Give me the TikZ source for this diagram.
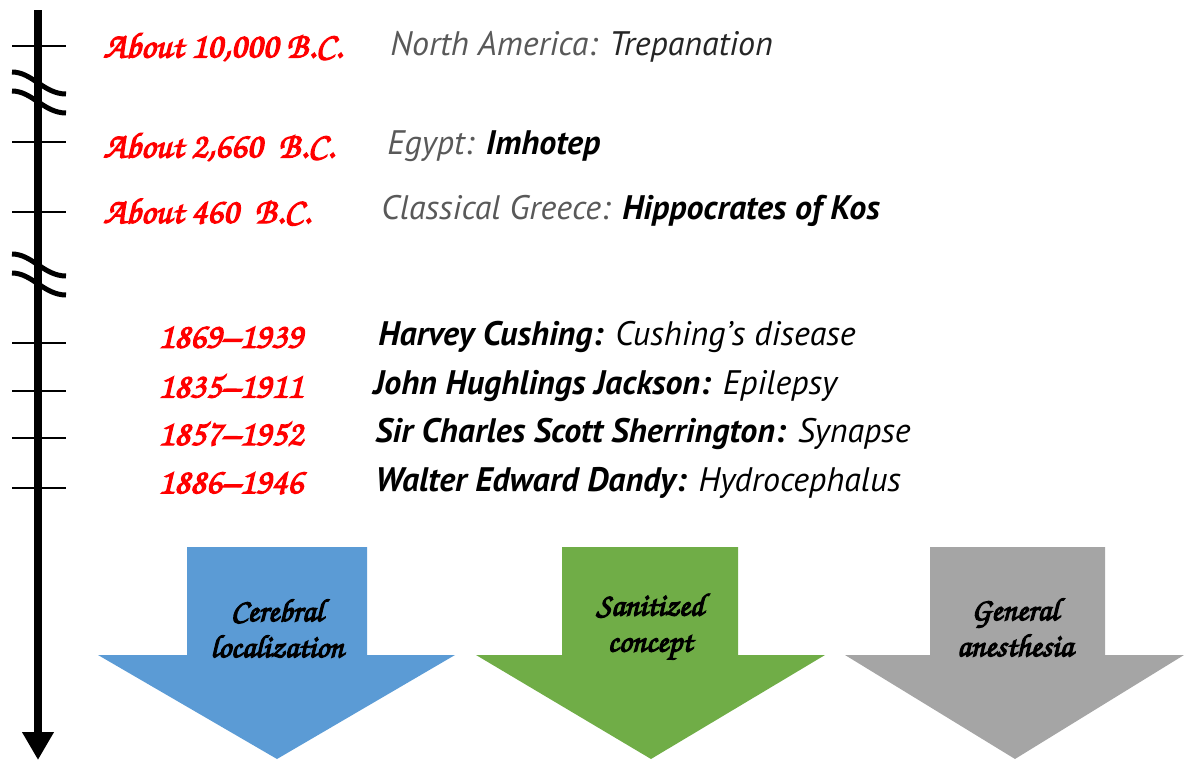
\documentclass[tikz,border=0pt]{standalone}
\usepackage[T1]{fontenc}
\usepackage{fontspec}
\usepackage{xcolor}
\usetikzlibrary{arrows.meta}
\setmainfont{PT Sans}
\newcommand{\brush}{\fontencoding{T1}\fontfamily{pzc}\fontseries{mb}\fontshape{it}\selectfont}
\newcommand{\heavy}[1]{\special{pdf:literal direct 2 Tr 0.6 w}#1\special{pdf:literal direct 0 Tr}}
\definecolor{datered}{HTML}{FF0000}
\definecolor{placegray}{HTML}{595959}
\definecolor{cerebralblue}{HTML}{5B9BD5}
\definecolor{sanitgreen}{HTML}{70AD47}
\definecolor{anesgray}{HTML}{A5A5A5}

\begin{document}
\begin{tikzpicture}[x=0.5pt,y=0.5pt,
	date/.style={anchor=west,text=datered,font=\brush\fontsize{18}{21}\selectfont},
	event/.style={anchor=west,font=\itshape\fontsize{17}{20}\selectfont},
	arrowtext/.style={align=center,font=\brush\fontsize{16}{18}\selectfont}]
	\tikzstyle{every node}+=[inner sep=0pt]
	\useasboundingbox (0,0) rectangle (1184,-760);
	% time axis
	\draw [black,line width=4pt,-{Triangle[width=15pt,length=14pt]}] (38,-10) -- (38,-760);
	\foreach \y in {46,142,212,343,391,438,488}
		\draw [black,line width=1pt] (12,-\y) -- (66,-\y);
	% breaks
	\foreach \y in {72,91,254,273}
		\draw [black,line width=2.5pt] (12,-\y) .. controls (32,-\y) and (44,-\y-22) .. (66,-\y-22);
	% dates
	\node [date] (d1) at (103,-47) {\heavy{About 10,000 B.C.}};
	\node [date] (d2) at (103,-147) {\heavy{About 2,660\ \ B.C.}};
	\node [date] (d3) at (103,-211) {\heavy{About 460\ \ B.C.}};
	\node [date] (d4) at (158,-337) {\heavy{1869--1939}};
	\node [date] (d5) at (158,-386) {\heavy{1835--1911}};
	\node [date] (d6) at (158,-434) {\heavy{1857--1952}};
	\node [date] (d7) at (158,-483) {\heavy{1886--1946}};
	% events
	\node [event] (e1) at (390,-47) {{\color{placegray}North America:} {\color{black!85}Trepanation}};
	\node [event] (e2) at (387,-146) {{\color{placegray}Egypt:} \textbf{Imhotep}};
	\node [event] (e3) at (381,-211) {{\color{placegray}Classical Greece:} \textbf{Hippocrates of Kos}};
	\node [event] (e4) at (378,-337) {\textbf{Harvey Cushing:} Cushing's disease};
	\node [event] (e5) at (373,-386) {\textbf{John Hughlings Jackson:} Epilepsy};
	\node [event] (e6) at (375,-434) {\textbf{Sir Charles Scott Sherrington:} Synapse};
	\node [event] (e7) at (375,-483) {\textbf{Walter Edward Dandy:} Hydrocephalus};
	% block arrows
	\fill [cerebralblue] (187,-547) -- (367,-547) -- (367,-655) -- (455,-655) -- (277,-759) -- (98,-655) -- (187,-655) -- cycle;
	\node [arrowtext] (a1) at (277,-628) {\heavy{Cerebral}\\\heavy{localization}};
	\fill [sanitgreen] (562,-547) -- (738,-547) -- (738,-655) -- (825,-655) -- (651,-759) -- (476,-655) -- (562,-655) -- cycle;
	\node [arrowtext] (a2) at (650,-627) {\heavy{Sanitized}\\\heavy{concept}};
	\fill [anesgray] (930,-547) -- (1105,-547) -- (1105,-655) -- (1184,-655) -- (1015,-759) -- (845,-655) -- (930,-655) -- cycle;
	\node [arrowtext] (a3) at (1015,-627) {\heavy{General}\\\heavy{anesthesia}};
\end{tikzpicture}
\end{document}
